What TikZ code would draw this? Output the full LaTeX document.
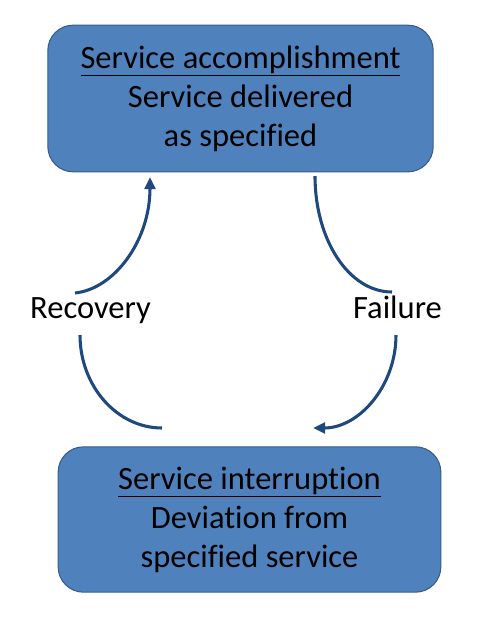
\documentclass[tikz,border=0pt]{standalone}
\usepackage{fontspec}
\setmainfont[RawFeature=-liga]{Carlito}
\usetikzlibrary{arrows.meta}
\definecolor{boxblue}{HTML}{4F81BD}
\definecolor{boxline}{HTML}{385D8A}
\definecolor{arrowblue}{HTML}{1F497D}
\tikzset{
	statebox/.style={draw=boxline, fill=boxblue, line width=0.8pt, rounded corners=19pt, align=center},
	flow/.style={draw=arrowblue, line width=2.3pt},
	flowtip/.style={flow, -{Triangle[length=9pt, width=8pt]}}
}

\begin{document}
\begin{tikzpicture}[x=0.75pt, y=-0.75pt, font=\fontsize{24.4}{29.3}\selectfont]
	\useasboundingbox (0,0) rectangle (497,618);
	\begin{scope}
	\node[statebox, minimum width=289pt, minimum height=110pt] (1) at (240.5, 98.5) {\underline{Service accomplishment}\\Service delivered\\as specified};
	\node[statebox, minimum width=287pt, minimum height=109pt] (2) at (249.5, 519.5) {\underline{Service interruption}\\Deviation from\\specified service};
	\node[anchor=base] (3) at (90.5, 318) {Recovery};
	\node[anchor=base] (4) at (397.5, 318) {Failure};
	\coordinate (5) at (75, 293);
	\coordinate (6) at (150, 177);
	\coordinate (7) at (80, 335);
	\coordinate (8) at (162, 428);
	\coordinate (9) at (315, 176);
	\coordinate (10) at (392, 292);
	\coordinate (11) at (396, 335);
	\coordinate (12) at (313, 428);
	\draw[flowtip] (5) .. controls (114, 289) and (150, 241) .. (6);
	\draw[flow] (7) .. controls (80, 386) and (117, 428) .. (8);
	\draw[flow] (9) .. controls (315, 240) and (349, 292) .. (10);
	\draw[flowtip] (11) .. controls (396, 386) and (359, 428) .. (12);
	\end{scope}
\end{tikzpicture}
\end{document}
